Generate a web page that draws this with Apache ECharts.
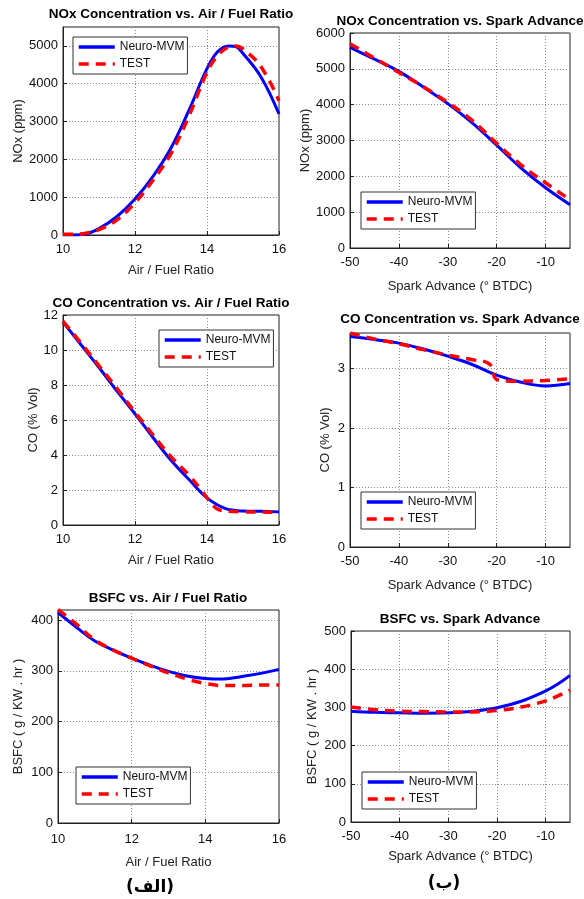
<!DOCTYPE html>
<html><head><meta charset="utf-8">
<script src="https://cdn.jsdelivr.net/npm/echarts@6/dist/echarts.min.js"></script>
<style>html,body{margin:0;padding:0;background:#fff}#c{width:584px;height:899px}</style>
</head><body><div id="c"></div>
<script>
// ---------- data ----------
const legendNames = ['Neuro-MVM', 'TEST'];
const titles = [
  'NOx Concentration vs. Air / Fuel Ratio',
  'NOx Concentration vs. Spark Advance',
  'CO Concentration vs. Air / Fuel Ratio',
  'CO Concentration vs. Spark Advance',
  'BSFC vs. Air / Fuel Ratio',
  'BSFC vs. Spark Advance'
];
const xNames = ['Air / Fuel Ratio', 'Spark Advance (\u00B0 BTDC)'];
const yNames = ['NOx (ppm)', 'NOx (ppm)', 'CO (% Vol)', 'CO (% Vol)', 'BSFC ( g / KW . hr )', 'BSFC ( g / KW . hr )'];
const panelLabels = ['(\u0627\u0644\u0641)', '(\u0628)'];

// Panel 1: NOx vs A/F
const noxAfrX      = [10, 10.3, 10.6, 11, 11.5, 12, 12.5, 13, 13.5, 14, 14.3, 14.6, 14.8, 15, 15.5, 16];
const noxAfrNeuro  = [0, 0, 20, 170, 490, 950, 1550, 2300, 3300, 4400, 4850, 5000, 4980, 4800, 4180, 3200];
const noxAfrTest   = [20, 20, 40, 140, 400, 850, 1450, 2150, 3150, 4300, 4750, 4970, 5000, 4920, 4450, 3550];
// Panel 2: NOx vs spark advance
const saX          = [-50, -45, -40, -35, -30, -25, -20, -15, -10, -5];
const noxSaNeuro   = [5600, 5270, 4930, 4490, 4030, 3490, 2870, 2230, 1680, 1210];
const noxSaTest    = [5700, 5300, 4900, 4500, 4060, 3560, 2920, 2320, 1820, 1350];
// Panel 3: CO vs A/F
const coAfrNeuroX  = [10, 10.5, 11, 11.5, 12, 12.5, 13, 13.5, 14, 14.5, 15, 15.5, 16];
const coAfrNeuro   = [11.6, 10.3, 9.0, 7.65, 6.35, 5.0, 3.7, 2.6, 1.55, 0.95, 0.8, 0.78, 0.75];
const coAfrTestX   = [10, 10.5, 11, 11.5, 12, 12.5, 13, 13.5, 13.8, 14.1, 14.3, 14.6, 15, 15.5, 16];
const coAfrTest    = [11.65, 10.4, 9.1, 7.8, 6.45, 5.15, 3.9, 2.85, 2.1, 1.3, 0.9, 0.78, 0.75, 0.75, 0.72];
// Panel 4: CO vs spark advance
const coSaNeuro    = [3.54, 3.49, 3.43, 3.33, 3.21, 3.07, 2.89, 2.77, 2.71, 2.75];
const coSaTestX    = [-50, -45, -40, -35, -30, -25, -21.5, -20, -17, -15, -10, -5];
const coSaTest     = [3.6, 3.5, 3.42, 3.32, 3.23, 3.15, 3.08, 2.82, 2.79, 2.79, 2.8, 2.83];
// Panel 5: BSFC vs A/F
const bsfcAfrX     = [10, 10.5, 11, 11.5, 12, 12.5, 13, 13.5, 14, 14.5, 15, 15.5, 16];
const bsfcAfrNeuro = [415, 386, 359, 341, 325, 311, 299, 290, 285, 284, 289, 295, 303];
const bsfcAfrTest  = [421, 392, 361, 341, 325, 310, 296, 284, 275, 271, 271, 272, 272];
// Panel 6: BSFC vs spark advance
const bsfcSaNeuroX = [-50, -45, -40, -35, -30, -25, -20, -15, -10, -7.5, -5];
const bsfcSaNeuro  = [290, 287, 286, 285, 286, 290, 299, 316, 343, 361, 384];
const bsfcSaTest   = [301, 294, 290, 289, 288, 288, 292, 301, 317, 330, 345];

// ---------- layout ----------
const F = '"Liberation Sans", Arial, sans-serif';
const grids = [
  {left: 63,  top: 27,  width: 216, height: 208},
  {left: 350, top: 33,  width: 220, height: 215},
  {left: 63,  top: 315, width: 216, height: 210},
  {left: 350, top: 333, width: 220, height: 214},
  {left: 58,  top: 610, width: 221, height: 213},
  {left: 351, top: 631, width: 219, height: 191}
];
const xCfg = [
  {min: 10, max: 16, interval: 2, name: 0, gap: 29, margin: 8},
  {min: -50, max: -5, interval: 10, name: 1, gap: 32, margin: 8},
  {min: 10, max: 16, interval: 2, name: 0, gap: 29, margin: 8},
  {min: -50, max: -5, interval: 10, name: 1, gap: 32, margin: 8},
  {min: 10, max: 16, interval: 2, name: 0, gap: 33, margin: 10},
  {min: -50, max: -5, interval: 10, name: 1, gap: 28, margin: 8}
];
const yCfg = [
  {min: 0, max: 5500, interval: 1000, gap: 36},
  {min: 0, max: 6000, interval: 1000, gap: 36},
  {min: 0, max: 12, interval: 2, gap: 23},
  {min: 0, max: 3.6, interval: 1, gap: 18},
  {min: 0, max: 420, interval: 100, gap: 33},
  {min: 0, max: 500, interval: 100, gap: 32}
];
const titleCenters = [[171, 14], [460, 21], [171, 303], [460, 319], [168, 598], [460, 619]];
const legendPos = [[73, 37], [361, 192], [159, 330], [361, 492], [76, 767], [362, 772]];

function pairs(xs, ys) { return xs.map((x, i) => [x, ys[i]]); }

const axisCommon = {
  type: 'value',
  nameLocation: 'middle',
  nameTextStyle: {fontSize: 13, color: '#222', fontFamily: F},
  axisLine: {show: true, onZero: false, lineStyle: {color: '#222', width: 1}},
  axisTick: {show: true, inside: true, length: 4, lineStyle: {color: '#222'}},
  splitLine: {show: true, lineStyle: {type: [1, 2], color: '#8a8a8a', width: 1}}
};
const plain = v => String(v);

const xAxes = xCfg.map((c, i) => Object.assign({}, axisCommon, {
  gridIndex: i, min: c.min, max: c.max, interval: c.interval,
  name: xNames[c.name], nameGap: c.gap,
  axisLabel: {fontSize: 13, color: '#111', fontFamily: F, margin: c.margin, formatter: plain,
              showMaxLabel: c.max % c.interval === 0}
}));
const yAxes = yCfg.map((c, i) => Object.assign({}, axisCommon, {
  gridIndex: i, min: c.min, max: c.max, interval: c.interval,
  name: yNames[i], nameGap: c.gap,
  axisLabel: {fontSize: 13, color: '#111', fontFamily: F, margin: 5, formatter: plain,
              showMaxLabel: Math.abs(c.max / c.interval - Math.round(c.max / c.interval)) < 1e-9}
}));

const blueStyle = {color: '#0000ff', width: 3};
const redStyle = {color: '#ff0000', width: 3.5, type: [10, 7]};
const panels = [
  [pairs(noxAfrX, noxAfrNeuro), pairs(noxAfrX, noxAfrTest)],
  [pairs(saX, noxSaNeuro), pairs(saX, noxSaTest)],
  [pairs(coAfrNeuroX, coAfrNeuro), pairs(coAfrTestX, coAfrTest)],
  [pairs(saX, coSaNeuro), pairs(coSaTestX, coSaTest)],
  [pairs(bsfcAfrX, bsfcAfrNeuro), pairs(bsfcAfrX, bsfcAfrTest)],
  [pairs(bsfcSaNeuroX, bsfcSaNeuro), pairs(bsfcSaNeuroX, bsfcSaTest)]
];
const series = [];
panels.forEach((p, i) => {
  series.push({type: 'line', name: legendNames[0], xAxisIndex: i, yAxisIndex: i, data: p[0],
    showSymbol: false, symbol: 'none', smooth: 0.4, lineStyle: blueStyle, itemStyle: {color: '#0000ff'}, z: 3, animation: false});
  series.push({type: 'line', name: legendNames[1], xAxisIndex: i, yAxisIndex: i, data: p[1],
    showSymbol: false, symbol: 'none', smooth: 0.4, lineStyle: redStyle, itemStyle: {color: '#ff0000'}, z: 4, animation: false});
});

const option = {
  backgroundColor: '#ffffff',
  animation: false,
  grid: grids.map(g => Object.assign({show: true, borderColor: '#222', borderWidth: 1, backgroundColor: '#fff'}, g)),
  title: titles.map((t, i) => ({
    text: t, left: titleCenters[i][0], top: titleCenters[i][1] - 8, textAlign: 'center', padding: 0,
    textStyle: {fontSize: 13.5, fontWeight: 'bold', color: '#000', fontFamily: F, lineHeight: 16}
  })),
  legend: legendPos.map(p => ({
    left: p[0], top: p[1], orient: 'vertical', data: legendNames, selectedMode: false,
    itemWidth: 36, itemHeight: 14, itemGap: 5, padding: [4, 3, 4, 4],
    borderColor: '#333', borderWidth: 1, backgroundColor: '#fff',
    itemStyle: {opacity: 0},
    lineStyle: {width: 3.5},
    textStyle: {fontSize: 12, color: '#111', fontFamily: F}
  })),
  xAxis: xAxes,
  yAxis: yAxes,
  series: series,
  graphic: [
    {type: 'text', x: 150, y: 888, style: {text: panelLabels[0], font: 'bold 17px "DejaVu Sans"', fill: '#000', align: 'center', verticalAlign: 'middle'}},
    {type: 'text', x: 444, y: 884, style: {text: panelLabels[1], font: 'bold 17px "DejaVu Sans"', fill: '#000', align: 'center', verticalAlign: 'middle'}}
  ]
};
const chart = echarts.init(document.getElementById('c'), null, {renderer: 'canvas'});
chart.setOption(option);
</script>
</body></html>
